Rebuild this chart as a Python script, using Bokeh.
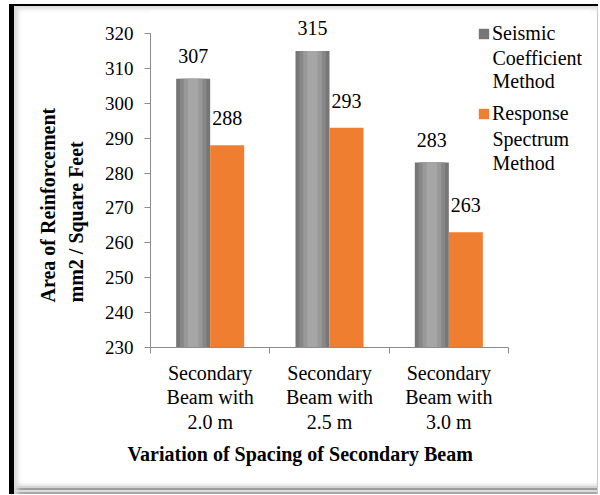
from bokeh.plotting import figure
from bokeh.models import (ColumnDataSource, Range1d, FixedTicker, LabelSet,
                          Legend, LegendItem, Label, Title)
from bokeh.core.properties import value
from bokeh.embed import file_html
from bokeh.resources import INLINE

# ---- data ----
categories = ["Secondary\nBeam with\n2.0 m",
              "Secondary\nBeam with\n2.5 m",
              "Secondary\nBeam with\n3.0 m"]
seismic = [307, 315, 283]
response = [288, 293, 263]
y_ticks = [230, 240, 250, 260, 270, 280, 290, 300, 310, 320]
series_lines = [["Seismic", "Coefficient", "Method"],
                ["Response", "Spectrum", "Method"]]
y_title = "Area of Reinforcement\nmm2 / Square Feet"
x_title = "Variation of Spacing of Secondary Beam"

FONT = "Liberation Serif"
n = len(categories)

# ---- layout (pixels) ----
W, H = 598, 494
F_LEFT, F_RIGHT, F_TOP, F_BOTTOM = 150, 590, 10, 347
AXIS_RIGHT_PX = 508   # where the category axis ends
AXIS_TOP_PX = 33      # where the value axis ends (at the top tick)

frame_w = F_RIGHT - F_LEFT
frame_h = F_BOTTOM - F_TOP
x_end = n * frame_w / (AXIS_RIGHT_PX - F_LEFT)
y0, y1 = y_ticks[0], y_ticks[-1]
y_end = y0 + (y1 - y0) * frame_h / (F_BOTTOM - AXIS_TOP_PX)

centers = [i + 0.5 for i in range(n)]
bar_w = 0.285
dodge = bar_w / 2

src = ColumnDataSource(dict(
    xg=[c - dodge for c in centers],
    xo=[c + dodge for c in centers],
    seismic=seismic,
    response=response,
    s_lbl=[str(v) for v in seismic],
    r_lbl=[str(v) for v in response],
))

p = figure(width=W, height=H,
           x_range=Range1d(0, x_end), y_range=Range1d(y0, y_end),
           output_backend="svg", toolbar_location=None,
           min_border_left=F_LEFT, min_border_right=W - F_RIGHT,
           min_border_top=F_TOP, min_border_bottom=H - F_BOTTOM)
p.border_fill_color = None
p.background_fill_color = "white"
p.outline_line_color = None
p.xgrid.visible = False
p.ygrid.visible = False
p.styles = {
    "background-color": "white",
    "box-shadow": ("inset 9px 0 0 #fff, inset 0 4px 0 #fff, "
                   "inset 14px 0 0 #000, inset 0 6px 0 #000, "
                   "inset 20px 11px 4px -2px #dadada, "
                   "inset -1px 0 0 #c8c8c8, "
                   "inset 0 -2px 0 #a9a9a9, inset 0 -4px 0 #dcdcdc, "
                   "inset 0 -6px 0 #9d9d9d, inset 0 -8px 0 #d4d4d4, "
                   "inset 0 -10px 3px #e6e6e6"),
}

# bars: seismic (grey, cylinder-like shading)
r_g = p.vbar(x="xg", top="seismic", bottom=y0, width=bar_w, source=src,
             fill_color="#767676", line_color=None)
p.vbar(x="xg", top="seismic", bottom=y0, width=bar_w * 0.78, source=src,
       fill_color="#878787", line_color=None)
p.vbar(x="xg", top="seismic", bottom=y0, width=bar_w * 0.55, source=src,
       fill_color="#999999", line_color=None)
p.vbar(x="xg", top="seismic", bottom=y0, width=bar_w * 0.3, source=src,
       fill_color="#a6a6a6", line_color=None)
# bars: response (orange)
r_o = p.vbar(x="xo", top="response", bottom=y0, width=bar_w, source=src,
             fill_color="#ef7e31", line_color=None)

# value labels
for xcol, ycol, tcol, off in (("xg", "seismic", "s_lbl", 23),
                              ("xo", "response", "r_lbl", 27)):
    p.add_layout(LabelSet(x=xcol, y=ycol, text=tcol, source=src,
                          text_align="center", text_baseline="middle",
                          y_offset=off, text_font=value(FONT),
                          text_font_size=value("20px"),
                          text_color="black"))

# y axis
ya = p.yaxis[0]
ya.bounds = (y0, y1)
ya.ticker = FixedTicker(ticks=y_ticks)
ya.major_label_text_font = FONT
ya.major_label_text_font_size = "19px"
ya.major_label_text_color = "black"
ya.major_tick_out = 6
ya.major_tick_in = 0
ya.minor_tick_line_color = None
ya.axis_line_color = "#8c8c8c"
ya.major_tick_line_color = "#8c8c8c"
ya.major_label_standoff = 11

# x axis
xa = p.xaxis[0]
xa.bounds = (0, n)
xa.ticker = FixedTicker(ticks=centers, minor_ticks=list(range(n + 1)))
xa.major_label_overrides = {c: lbl for c, lbl in zip(centers, categories)}
xa.major_tick_line_color = None
xa.major_tick_out = 0
xa.major_tick_in = 0
xa.minor_tick_out = 6
xa.minor_tick_in = 0
xa.minor_tick_line_color = "#8c8c8c"
xa.axis_line_color = "#8c8c8c"
xa.major_label_text_font = FONT
xa.major_label_text_font_size = "20px"
xa.major_label_text_color = "black"
xa.major_label_text_line_height = 1.12
xa.major_label_standoff = 8

# axis titles
xt = Title(text=x_title, align="left", offset=127 - F_LEFT, standoff=11,
           text_font=FONT, text_font_size="20px", text_font_style="bold",
           text_color="black")
p.add_layout(xt, "below")
yt = Title(text=y_title, align="left", offset=F_BOTTOM - 302, standoff=30,
           text_font=FONT, text_font_size="20px", text_font_style="bold",
           text_color="black", text_line_height=1.25)
p.add_layout(yt, "left")

# legend: first line of each entry with its swatch, remaining lines as labels
LEG_X = 477 - F_LEFT           # swatch left, frame-relative
LINE_Y = [[33, 57, 80], [113, 138, 162]]   # line centres (canvas px)
item_h = 23
spacing = LINE_Y[1][0] - LINE_Y[0][0] - item_h
legend = Legend(items=[LegendItem(label=series_lines[0][0], renderers=[r_g]),
                       LegendItem(label=series_lines[1][0], renderers=[r_o])],
                location=(LEG_X, F_BOTTOM - (LINE_Y[1][0] + item_h / 2)))
legend.label_text_font = FONT
legend.label_text_font_size = "20px"
legend.label_text_color = "black"
legend.label_height = item_h
legend.glyph_width = 13
legend.glyph_height = 13
legend.label_standoff = 2
legend.spacing = int(spacing)
legend.padding = 0
legend.margin = 0
legend.border_line_color = None
legend.background_fill_color = None
p.add_layout(legend)

for lines, ys in zip(series_lines, LINE_Y):
    for txt, yy in zip(lines[1:], ys[1:]):
        p.add_layout(Label(x=LEG_X + 15, y=F_BOTTOM - yy, x_units="screen",
                           y_units="screen", text=txt, text_font=FONT,
                           text_font_size="20px", text_color="black",
                           text_baseline="middle", text_align="left"))

open("out.html", "w").write(file_html(p, INLINE))
